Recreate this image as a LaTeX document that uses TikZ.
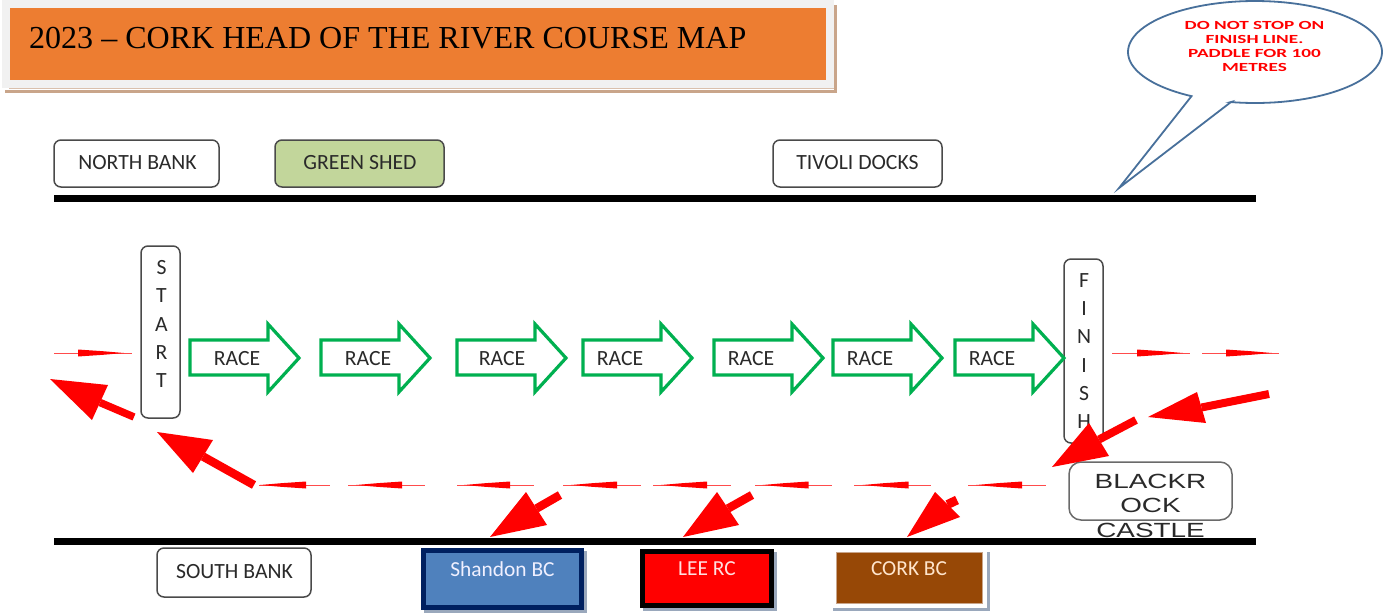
\documentclass[tikz,border=0pt]{standalone}
\usepackage{fontspec}
\usetikzlibrary{arrows.meta,calc}
\setmainfont{Carlito}
\newfontfamily\serifF{Liberation Serif}
\newfontfamily\arialF{Liberation Sans}
\definecolor{orangeT}{HTML}{ED7D31}
\definecolor{panel}{HTML}{F1F1F1}
\definecolor{tanS}{HTML}{C9A58A}
\definecolor{inkT}{HTML}{2A2A2A}
\definecolor{raceG}{HTML}{00B050}
\definecolor{shedG}{HTML}{C2D69B}
\definecolor{calloutB}{HTML}{48709B}
\definecolor{shadowB}{HTML}{9AA8BC}
\definecolor{shandonF}{HTML}{4F81BD}
\definecolor{navyB}{HTML}{002060}
\definecolor{corkF}{HTML}{974806}
\tikzset{
  x=1pt,y=-1pt,
  lbl/.style={inner sep=0pt,text=inkT,font=\fontsize{21.7}{25}\selectfont,align=center},
  roundbox/.style={draw=inkT!85,line width=1.5pt,rounded corners=7pt,fill=white,inner sep=0pt},
  bank/.style={line width=7pt,black},
  racearrow/.style={draw=raceG,line width=3.2pt,fill=white,miter limit=10},
  clubtext/.style={inner sep=0pt,font=\fontsize{21.4}{25}\selectfont},
}
% tapered dash: x1, x2, thick position, y, direction sign
\newcommand{\taper}[5]{%
  \draw[red!70,line width=1pt] (#1,#4) -- (#2,#4);
  \fill[red] (#3,#4-3.5) -- (#3+#5*25,#4-1.8) -- (#3+#5*46,#4) -- (#3+#5*25,#4+1.8) -- (#3,#4+3.5) -- cycle;}
% tail x,y; tip x,y; baseA x,y; baseB x,y; width
\newcommand{\bigarrow}[9]{%
  \coordinate (tl) at (#1,#2); \coordinate (tp) at (#3,#4);
  \coordinate (ba) at (#5,#6); \coordinate (bb) at (#7,#8);
  \draw[red,line width=#9] (tl) -- ($(ba)!.5!(bb)$);
  \fill[red] (tp) -- (ba) -- (bb) -- cycle;}
\newcommand{\racearr}[3]{%
  \draw[racearrow] (#1,340) -- (#1+78,340) -- (#1+78,324) -- (#1+109,358) -- (#1+78,392) -- (#1+78,375) -- (#1,375) -- cycle;
  \node[lbl] (#3) at (#2,359) {RACE};}
\begin{document}
\begin{tikzpicture}
\useasboundingbox (0,0) rectangle (1386,614);
\fill[white] (0,0) rectangle (1386,614);
% title
\fill[tanS] (5,5) rectangle (837,93);
\fill[white] (5,5) rectangle (834,90);
\fill[tanS!70] (9,88.4) rectangle (834,89.4);
\fill[panel] (2,0) rectangle (834,88);
\fill[orangeT] (10,8) rectangle (826,80);
\node[anchor=base west,inner sep=0pt,font=\serifF\fontsize{32.03}{38}\selectfont] (title) at (29,48) {2023 – CORK HEAD OF THE RIVER COURSE MAP};
% banks
\coordinate (nbL) at (54,198); \coordinate (nbR) at (1256,198);
\coordinate (sbL) at (54,541); \coordinate (sbR) at (1256,541);
\draw[bank] (nbL) -- (nbR);
% callout
\draw[calloutB,line width=1.8pt,fill=white,line join=miter]
  (1119,188) -- (1231,102) -- plot[domain=101:-240,samples=120] ({1255+127*cos(\x)},{52+51*sin(\x)}) -- cycle;
\node[inner sep=0pt,text=red,align=center,font=\bfseries\fontsize{12.4}{14}\selectfont] (callouttext) at (1254.5,46)
  {\scalebox{1.55}[1]{DO NOT STOP ON}\\\scalebox{1.55}[1]{FINISH LINE.}\\\scalebox{1.55}[1]{PADDLE FOR 100}\\\scalebox{1.55}[1]{METRES}};
% top boxes
\node[roundbox,minimum width=165pt,minimum height=47pt] (northbox) at (136.5,163.5) {};
\node[lbl] (north) at (137.5,163) {NORTH BANK};
\node[roundbox,fill=shedG,minimum width=169pt,minimum height=47pt] (shedbox) at (359.5,163.5) {};
\node[lbl] (shed) at (360,163) {GREEN SHED};
\node[roundbox,minimum width=169pt,minimum height=47pt] (tivolibox) at (857.5,163.5) {};
\node[lbl] (tivoli) at (857.5,163) {TIVOLI DOCKS};
% start / finish
\node[roundbox,minimum width=39pt,minimum height=172pt] (startbox) at (160.5,332) {};
\foreach \c/\y/\n in {S/268/a,T/296/b,A/325/c,R/353/d,T/381/e}
  \node[lbl] (st\n) at (161.5,\y) {\c};
\node[roundbox,minimum width=39pt,minimum height=184pt] (finishbox) at (1083.5,351) {};
\foreach \c/\y/\n in {F/281/a,I/309/b,N/337/c,I/366/d,S/394/e,H/422/f}
  \node[lbl] (fi\n) at (1084,\y) {\c};
% race arrows
\racearr{190}{237}{race1}
\racearr{321}{368}{race2}
\racearr{457}{502}{race3}
\racearr{583}{620}{race4}
\racearr{714}{751}{race5}
\racearr{833}{870}{race6}
\racearr{955}{992}{race7}
% south side
\draw[bank] (sbL) -- (sbR);
\node[roundbox,draw=inkT!70,rounded corners=12pt,fill=white,minimum width=163pt,minimum height=58pt] (blackbox) at (1150.5,491) {};
\node[inner sep=0pt,text=inkT,align=center,font=\arialF\fontsize{20.5}{24.5}\selectfont] (black) at (1150.5,505.5)
  {\scalebox{1.36}[1]{BLACKR}\\\scalebox{1.36}[1]{OCK}\\\scalebox{1.36}[1]{CASTLE}};
\node[roundbox,minimum width=154pt,minimum height=49pt] (southbox) at (234,572.5) {};
\node[lbl] (south) at (234.5,571.5) {SOUTH BANK};
% clubs
\fill[shadowB] (424,551) rectangle (587,613);
\node[draw=navyB,line width=4.5pt,fill=shandonF,minimum width=158pt,minimum height=57pt,inner sep=0pt] (shandonbox) at (502.5,579) {};
\node[clubtext,text=blue!6!white] (shandon) at (502.5,569) {Shandon BC};
\fill[shadowB] (643,552) rectangle (777,611);
\node[draw=black,line width=5pt,fill=red,minimum width=129pt,minimum height=54pt,inner sep=0pt] (leebox) at (707,578.5) {};
\node[clubtext,text=red!12!white] (lee) at (707,569) {LEE RC};
\fill[shadowB] (833,608) rectangle (990,611);
\fill[shadowB] (987,552) rectangle (990,611);
\node[draw=tanS,line width=.7pt,fill=corkF,minimum width=146pt,minimum height=51pt,inner sep=0pt] (corkbox) at (909,577.5) {};
\node[clubtext,text=orange!20!white] (cork) at (909,569) {CORK BC};
% tapered dashes
\taper{54}{132}{78}{353}{1}
\taper{1112}{1190}{1137}{353}{1}
\taper{1202}{1279}{1226}{353}{1}
\taper{259}{330}{306}{485}{-1}
\taper{348}{425}{402}{485}{-1}
\taper{457}{534}{510}{485}{-1}
\taper{563}{641}{617}{485}{-1}
\taper{653}{731}{707}{485}{-1}
\taper{755}{832}{808.5}{485}{-1}
\taper{854}{931}{908.6}{485}{-1}
\taper{968}{1046}{1022}{485}{-1}
% big arrows
\bigarrow{134}{417}{50}{379}{108}{385}{92}{420}{7.5pt}
\bigarrow{254}{485}{157}{432}{213}{440}{193}{473}{8.5pt}
\bigarrow{1269}{394}{1148}{417}{1197}{392}{1206}{423}{8pt}
\bigarrow{1136}{420}{1052}{467}{1089}{423}{1109}{456}{8pt}
\bigarrow{560}{495}{490}{537}{526}{492}{547}{525}{8.5pt}
\bigarrow{752}{495}{683}{537}{717}{492}{739}{525}{8.5pt}
\bigarrow{957}{500}{907}{537}{935}{492}{960}{517}{9pt}
\end{tikzpicture}
\end{document}
